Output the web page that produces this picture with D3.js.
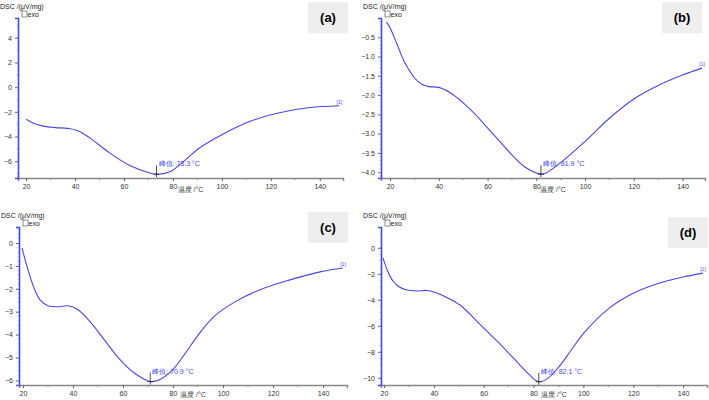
<!DOCTYPE html>
<html>
<head>
<meta charset="utf-8">
<script src="https://cdn.jsdelivr.net/npm/d3@7/dist/d3.min.js"></script>
<style>
  body { margin: 0; background: #fff; }
  svg { display: block; font-family: "Liberation Sans", Arial, sans-serif; }
</style>
</head>
<body>
<svg id="chart" width="709" height="400"></svg>
<script>
// temperature (°C) and DSC (μV/mg) readings for each sample
const tempA = [20, 23, 27, 32, 37, 41, 46, 54, 62, 70.6, 73.3, 78.8, 85, 91, 100, 111, 124, 136, 148];
const dscA  = [-2.6, -2.92, -3.15, -3.27, -3.33, -3.5, -4.1, -5.3, -6.3, -6.95, -7.05, -6.85, -5.9, -4.9, -3.85, -2.8, -2.05, -1.65, -1.5];

const tempB = [18.5, 20, 23, 26, 30, 33, 36, 40, 45, 50, 55, 60, 65, 70, 75, 80, 81.9, 84, 90, 100, 110, 120, 130, 140, 148];
const dscB  = [-0.1, -0.25, -0.7, -1.15, -1.55, -1.72, -1.78, -1.8, -1.95, -2.2, -2.5, -2.85, -3.2, -3.55, -3.85, -4.02, -4.05, -4.02, -3.75, -3.2, -2.6, -2.1, -1.75, -1.48, -1.3];

const tempC = [19.6, 22, 24.4, 26.8, 30, 34, 38, 42, 46.8, 52.8, 58.8, 64.8, 70.9, 74.8, 80, 84.8, 90.8, 96.8, 104.8, 114.8, 126.8, 138.8, 148];
const dscC  = [-0.22, -1.17, -1.96, -2.48, -2.74, -2.78, -2.74, -2.91, -3.43, -4.26, -5.09, -5.7, -6.05, -5.96, -5.52, -4.83, -3.91, -3.17, -2.57, -2.04, -1.61, -1.26, -1.09];

const tempD = [19.6, 21.5, 23.6, 26, 29.2, 33, 37.3, 41, 45, 50.5, 58.6, 66, 74, 78, 82.1, 86, 90, 95, 100, 110, 120, 130, 140, 148];
const dscD  = [-0.77, -1.8, -2.55, -3.0, -3.25, -3.32, -3.28, -3.45, -3.8, -4.4, -5.9, -7.3, -8.9, -9.7, -10.3, -10.0, -9.2, -7.9, -6.6, -4.7, -3.5, -2.75, -2.25, -1.95];

const peakTemps = [73.3, 81.9, 70.9, 82.1];
const panelNames = ["(a)", "(b)", "(c)", "(d)"];
const xTicks = [20, 40, 60, 80, 100, 120, 140];
const yTicksA = [-6, -4, -2, 0, 2, 4];
const yTicksB = [-4.0, -3.5, -3.0, -2.5, -2.0, -1.5, -1.0, -0.5];
const yTicksC = [-6, -5, -4, -3, -2, -1, 0];
const yTicksD = [-10, -8, -6, -4, -2, 0];

const svg = d3.select("#chart");
const blue = "#4646e6";

const panels = [
  { t: tempA, v: dscA, yt: yTicksA, fmt: d3.format("d"), minor: 1,
    box: [18, 343, 18, 178], xd: [16.7, 149.5], yd: [-7.35, 5.6], lab: [308, 2], tl: 14 },
  { t: tempB, v: dscB, yt: yTicksB, fmt: d3.format(".1f"), minor: 0.1,
    box: [381, 705, 18, 178], xd: [16.3, 149.2], yd: [-4.15, 0.0], lab: [662, 2], tl: 14 },
  { t: tempC, v: dscC, yt: yTicksC, fmt: d3.format("d"), minor: 0.2,
    box: [19, 347, 227, 385], xd: [18.4, 149.6], yd: [-6.2, 0.7], lab: [308, 212], tl: 12 },
  { t: tempD, v: dscD, yt: yTicksD, fmt: d3.format("d"), minor: 0.5,
    box: [381, 707, 227, 385], xd: [18.8, 149.6], yd: [-10.55, 1.6], lab: [668, 217], tl: 12 }
];

panels.forEach((p, i) => drawPanel(p, i));

function drawPanel(p, i) {
  const [x0, x1, y0, y1] = p.box;
  const x = d3.scaleLinear().domain(p.xd).range([x0, x1]);
  const y = d3.scaleLinear().domain(p.yd).range([y1, y0]);
  const g = svg.append("g");

  // panel tag
  g.append("rect")
    .attr("x", p.lab[0]).attr("y", p.lab[1])
    .attr("width", 40).attr("height", 31)
    .attr("fill", "#eeeeee");
  g.append("text")
    .attr("x", p.lab[0] + 20).attr("y", p.lab[1] + 20)
    .attr("text-anchor", "middle")
    .attr("font-size", 13).attr("font-weight", "bold")
    .text(panelNames[i]);

  // x axis
  const xAxis = d3.axisBottom(x).tickValues(xTicks).tickSize(3).tickFormat(d3.format("d"));
  const gx = g.append("g").attr("transform", `translate(0,${y1})`).call(xAxis);
  gx.select(".domain").attr("stroke", "#888").attr("stroke-width", 1.5);
  gx.selectAll(".tick line").attr("stroke", "#666");
  gx.selectAll(".tick text").attr("font-size", 7).attr("fill", "#333").attr("font-family", "Liberation Sans, Arial");
  const xMinor = d3.range(30, 150, 20);
  g.append("g").selectAll("line").data(xMinor).join("line")
    .attr("x1", d => x(d)).attr("x2", d => x(d))
    .attr("y1", y1).attr("y2", y1 + 2)
    .attr("stroke", "#888");

  // y axis
  const yAxis = d3.axisLeft(y).tickValues(p.yt).tickSize(3).tickFormat(d => p.fmt(d).replace("-", "\u2212"));
  const gy = g.append("g").attr("transform", `translate(${x0},0)`).call(yAxis);
  gy.select(".domain").attr("stroke", blue).attr("stroke-width", 1.6);
  gy.selectAll(".tick line").attr("stroke", "#666");
  gy.selectAll(".tick text").attr("font-size", 7).attr("fill", "#333").attr("font-family", "Liberation Sans, Arial");
  const yMinor = d3.range(Math.ceil(p.yd[0] / p.minor) * p.minor, p.yd[1], p.minor);
  g.append("g").selectAll("line").data(yMinor).join("line")
    .attr("x1", x0 - 1.5).attr("x2", x0)
    .attr("y1", d => y(d)).attr("y2", d => y(d))
    .attr("stroke", "#9999ee").attr("stroke-width", 0.8);

  // titles
  g.append("text")
    .attr("x", x0 - 18).attr("y", y0 - 9)
    .attr("font-size", 7).attr("fill", "#222")
    .text("DSC /(μV/mg)");
  g.append("rect")
    .attr("x", x0 + 4).attr("y", y0 - 7)
    .attr("width", 5).attr("height", 6)
    .attr("fill", "none").attr("stroke", "#444").attr("stroke-width", 0.6);
  g.append("text")
    .attr("x", x0 + 9.5).attr("y", y0 - 1.5)
    .attr("font-size", 7).attr("fill", "#222")
    .text("exo");
  g.append("text")
    .attr("x", (x0 + x1) / 2 + 10).attr("y", y1 + p.tl)
    .attr("text-anchor", "middle")
    .attr("font-size", 7).attr("fill", "#333")
    .text("温度 /°C");

  // curve
  const pts = p.t.map((t, k) => [t, p.v[k]]);
  const line = d3.line()
    .x(d => x(d[0]))
    .y(d => y(d[1]))
    .curve(d3.curveCatmullRom.alpha(0.5));
  g.append("path")
    .datum(pts)
    .attr("d", line)
    .attr("fill", "none")
    .attr("stroke", blue)
    .attr("stroke-width", 1.1);

  // end marker [1]
  const last = pts[pts.length - 1];
  g.append("text")
    .attr("x", x(last[0])).attr("y", y(last[1]) - 2)
    .attr("text-anchor", "middle")
    .attr("font-size", 5).attr("fill", blue)
    .text("[1]");

  // peak marker
  const pk = peakTemps[i];
  const pv = p.v[p.t.indexOf(pk)];
  const px = x(pk), py = y(pv);
  g.append("line")
    .attr("x1", px).attr("x2", px)
    .attr("y1", py - 9).attr("y2", py + 3)
    .attr("stroke", "#222").attr("stroke-width", 0.8);
  g.append("line")
    .attr("x1", px - 3).attr("x2", px + 3)
    .attr("y1", py).attr("y2", py)
    .attr("stroke", "#222").attr("stroke-width", 0.8);
  g.append("text")
    .attr("x", px + 2).attr("y", py - 8)
    .attr("font-size", 7).attr("fill", blue)
    .text(`峰值: ${pk.toFixed(1)} °C`);
}
</script>
</body>
</html>
